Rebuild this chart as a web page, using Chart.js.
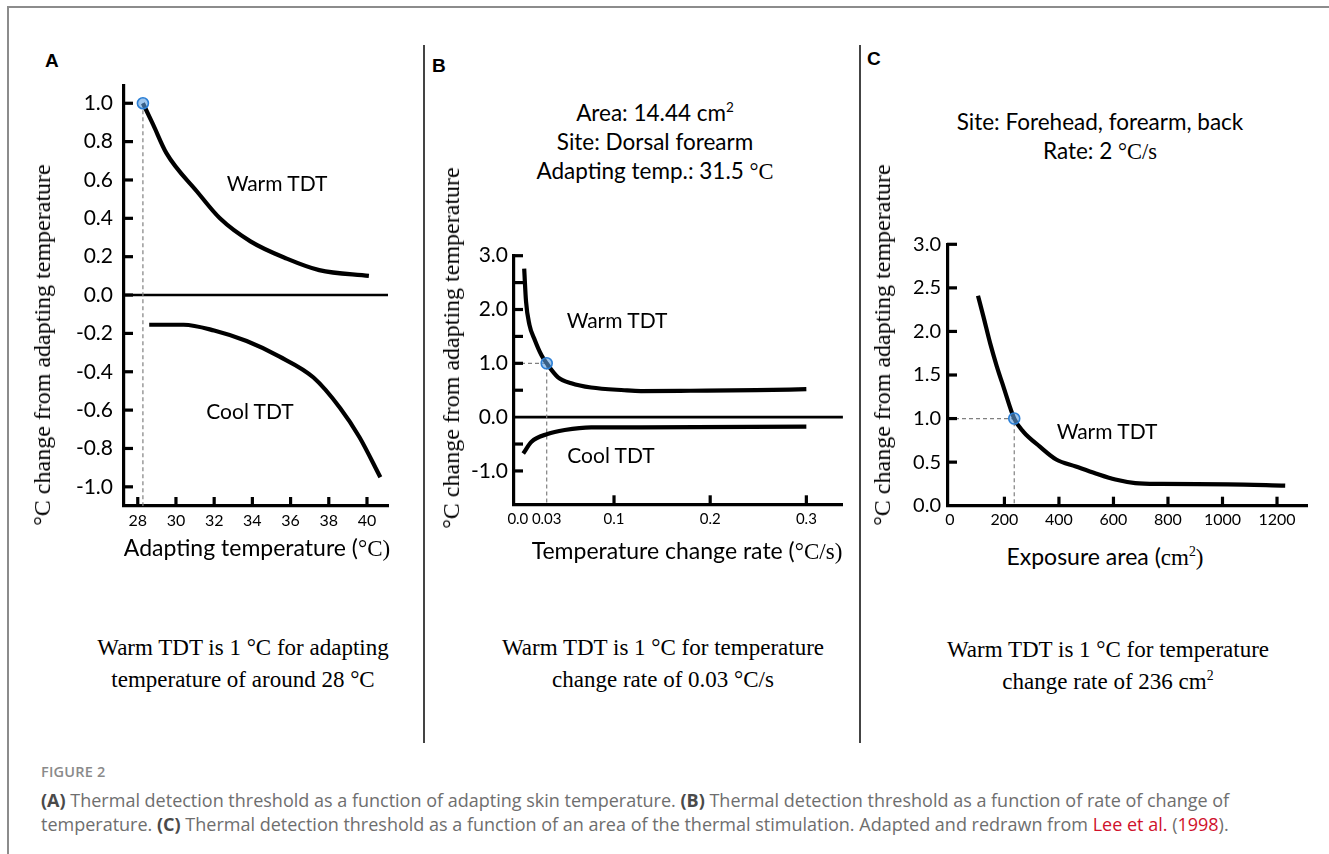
<!DOCTYPE html>
<html><head><meta charset="utf-8">
<script src="https://cdn.jsdelivr.net/npm/chart.js@4.4.1/dist/chart.umd.min.js"></script>
<style>
*{box-sizing:border-box}
html,body{margin:0;padding:0;background:#fff}
#root{position:relative;width:1329px;height:854px;overflow:hidden;font-family:Lato,"Open Sans",sans-serif;color:#000}
#frameTop{position:absolute;left:7px;top:6px;width:1322px;height:2px;background:#8c8c8c}
#frameLeft{position:absolute;left:7px;top:6px;width:2px;height:848px;background:#8c8c8c}
.vdiv{position:absolute;top:45px;width:1.5px;height:698px;background:#444}
canvas{position:absolute}
sup{line-height:0;font-size:0.6em;vertical-align:super}
.c{position:absolute;white-space:nowrap;transform:translate(-50%,-50%);line-height:1}
.lbl{font-size:21px}
.ann{font-size:22.5px}
.xt{font-size:23px}
.serif{font-family:"Liberation Serif","Times New Roman",serif}
.ytitle{position:absolute;white-space:nowrap;transform:translate(-50%,-50%) rotate(-90deg);font-family:"Liberation Serif",serif;font-size:24px;line-height:1}
.panel{position:absolute;font-family:"Liberation Sans",Arial,sans-serif;font-weight:bold;font-size:19px;line-height:1}
.note{position:absolute;transform:translateX(-50%);text-align:center;font-family:"Liberation Serif",serif;font-size:23px;line-height:32px;white-space:nowrap}
#figlab{position:absolute;left:41px;top:762px;font-family:"Open Sans",sans-serif;font-size:14.5px;font-weight:600;color:#8a8a8a;letter-spacing:0.2px}
#cap{position:absolute;left:41px;top:788px;font-family:"Open Sans",sans-serif;font-size:18px;line-height:24px;color:#6e6e6e;white-space:nowrap}
#cap b{color:#4a4a4a;font-weight:700}
#cap .red{color:#d0112b}
</style>
</head>
<body>
<div id="root">
  <div id="frameTop"></div><div id="frameLeft"></div>
  <div class="vdiv" style="left:423px"></div>
  <div class="vdiv" style="left:859px"></div>

  <div class="panel" style="left:45px;top:51px">A</div>
  <div class="panel" style="left:432px;top:56px">B</div>
  <div class="panel" style="left:867px;top:49px">C</div>

  <canvas id="chA" width="390" height="480" style="left:20px;top:70px;width:390px;height:480px"></canvas>
  <canvas id="chB" width="420" height="320" style="left:430px;top:230px;width:420px;height:320px"></canvas>
  <canvas id="chC" width="460" height="320" style="left:865px;top:220px;width:460px;height:320px"></canvas>

  <!-- axis titles -->
  <div class="ytitle" style="left:42px;top:345px">°C change from adapting temperature</div>
  <div class="ytitle" style="left:451px;top:348px">°C change from adapting temperature</div>
  <div class="ytitle" style="left:882px;top:345px">°C change from adapting temperature</div>
  <div class="c xt" style="left:257px;top:548px">Adapting temperature (<span class="serif">°C)</span></div>
  <div class="c xt" style="left:687px;top:551px">Temperature change rate (<span class="serif">°C/s)</span></div>
  <div class="c xt" style="left:1105px;top:557px">Exposure area (<span class="serif">cm<sup>2</sup>)</span></div>

  <!-- in-plot labels -->
  <div class="c lbl" style="left:277px;top:182px">Warm TDT</div>
  <div class="c lbl" style="left:250px;top:410px">Cool TDT</div>
  <div class="c lbl" style="left:617px;top:319px">Warm TDT</div>
  <div class="c lbl" style="left:611px;top:454px">Cool TDT</div>
  <div class="c lbl" style="left:1107px;top:430px">Warm TDT</div>

  <!-- condition annotations -->
  <div class="c ann" style="left:655px;top:113px">Area: 14.44 cm<sup>2</sup></div>
  <div class="c ann" style="left:655px;top:142px">Site: Dorsal forearm</div>
  <div class="c ann" style="left:655px;top:172px">Adapting temp.: 31.5 <span class="serif">°C</span></div>
  <div class="c ann" style="left:1100px;top:122px">Site: Forehead, forearm, back</div>
  <div class="c ann" style="left:1100px;top:152px">Rate: 2 <span class="serif">°C/s</span></div>

  <!-- notes -->
  <div class="note" style="left:243px;top:632px">Warm TDT is 1 °C for adapting<br>temperature of around 28 °C</div>
  <div class="note" style="left:663px;top:632px">Warm TDT is 1 °C for temperature<br>change rate of 0.03 °C/s</div>
  <div class="note" style="left:1108px;top:634px">Warm TDT is 1 °C for temperature<br>change rate of 236 cm<sup>2</sup></div>

  <div id="figlab">FIGURE 2</div>
  <div id="cap"><b>(A)</b> Thermal detection threshold as a function of adapting skin temperature. <b>(B)</b> Thermal detection threshold as a function of rate of change of<br>temperature. <b>(C)</b> Thermal detection threshold as a function of an area of the thermal stimulation. Adapted and redrawn from <span class="red">Lee et al.</span> (<span class="red">1998</span>).</div>
</div>

<script>
// ---------- Panel A: adapting temperature ----------
const aWarmT = [28.27, 28.8, 29.5, 31.1, 32.3, 33.9, 35.8, 37.5, 40.1];
const aWarmV = [1.0, 0.89, 0.74, 0.54, 0.40, 0.28, 0.19, 0.13, 0.10];
const aCoolT = [28.6, 30.4, 32.0, 33.7, 35.4, 37.2, 38.6, 39.6, 40.7];
const aCoolV = [-0.155, -0.155, -0.185, -0.24, -0.32, -0.43, -0.59, -0.74, -0.95];
const aXTicks = [28, 30, 32, 34, 36, 38, 40];
const aXLabels = ['28', '30', '32', '34', '36', '38', '40'];
const aYTicks = [-1.0, -0.8, -0.6, -0.4, -0.2, 0.0, 0.2, 0.4, 0.6, 0.8, 1.0];
const aYLabels = ['-1.0', '-0.8', '-0.6', '-0.4', '-0.2', '0.0', '0.2', '0.4', '0.6', '0.8', '1.0'];
const aMark = [28.27, 1.0];

// ---------- Panel B: temperature change rate ----------
const bWarmR = [0.0066, 0.0085, 0.012, 0.0177, 0.0246, 0.03, 0.0418, 0.0556, 0.0762, 0.1107, 0.128, 0.1796, 0.248, 0.300];
const bWarmV = [2.76, 2.15, 1.72, 1.43, 1.15, 1.0, 0.74, 0.63, 0.55, 0.50, 0.485, 0.49, 0.50, 0.52];
const bCoolR = [0.0056, 0.0142, 0.0308, 0.0487, 0.0762, 0.128, 0.300];
const bCoolV = [-0.675, -0.457, -0.314, -0.24, -0.19, -0.19, -0.178];
const bXTicks = [0.0, 0.03, 0.1, 0.2, 0.3];
const bXLabels = ['0.0', '0.03', '0.1', '0.2', '0.3'];
const bXMarks = [0.1, 0.2, 0.3];
const bYTicks = [-1.0, 0.0, 1.0, 2.0, 3.0];
const bYLabels = ['-1.0', '0.0', '1.0', '2.0', '3.0'];
const bYMarks = [-1.0, -0.5, 0.5, 1.0, 1.5, 2.0, 2.5, 3.0];
const bMark = [0.03, 1.0];

// ---------- Panel C: exposure area ----------
const cArea = [103, 123, 148, 172, 196, 236, 269, 329, 390, 462, 535, 607, 680, 777, 1019, 1230];
const cWarmV = [2.41, 2.17, 1.86, 1.60, 1.37, 1.0, 0.85, 0.68, 0.53, 0.45, 0.37, 0.30, 0.26, 0.25, 0.245, 0.23];
const cXTicks = [0, 200, 400, 600, 800, 1000, 1200];
const cXLabels = ['0', '200', '400', '600', '800', '1000', '1200'];
const cXMarks = [200, 400, 600, 800, 1000, 1200];
const cYTicks = [0.0, 0.5, 1.0, 1.5, 2.0, 2.5, 3.0];
const cYLabels = ['0.0', '0.5', '1.0', '1.5', '2.0', '2.5', '3.0'];
const cYMarks = [0.5, 1.0, 1.5, 2.0, 2.5, 3.0];
const cMark = [236, 1.0];

// axis ranges
const aRange = {x: [27.28, 41.1], y: [-1.1, 1.09]};
const bRange = {x: [-0.004, 0.338], y: [-1.62, 3.0]};
const cRange = {x: [-7, 1310], y: [0, 3.0]};

const pts = (xs, ys) => xs.map((x, i) => ({x: x, y: ys[i]}));

const inwardTicks = {
  id: 'inwardTicks',
  afterDatasetsDraw(chart, args, o) {
    const ctx = chart.ctx, xs = chart.scales.x, ys = chart.scales.y;
    ctx.save();
    ctx.strokeStyle = '#000';
    ctx.lineWidth = o.width;
    (o.x || []).forEach(v => {
      const px = xs.getPixelForValue(v);
      ctx.beginPath(); ctx.moveTo(px, ys.bottom + 1); ctx.lineTo(px, ys.bottom - o.len); ctx.stroke();
    });
    (o.y || []).forEach(v => {
      const py = ys.getPixelForValue(v);
      ctx.beginPath(); ctx.moveTo(xs.left - 1, py); ctx.lineTo(xs.left + o.len, py); ctx.stroke();
    });
    ctx.restore();
  }
};

function curve(data) {
  return {data: data, showLine: true, borderColor: '#000', borderWidth: 4.2, pointRadius: 0,
          tension: 0.4, cubicInterpolationMode: 'monotone', clip: false, order: 3};
}
function dashed(data) {
  return {data: data, showLine: true, borderColor: '#808080', borderWidth: 1.2, borderDash: [4, 3],
          pointRadius: 0, clip: false, order: 4};
}
function zeroLine(range) {
  return {data: [{x: range.x[0], y: 0}, {x: range.x[1], y: 0}], showLine: true, borderColor: '#000',
          borderWidth: 2.6, pointRadius: 0, clip: false, order: 5};
}
function marker(m) {
  return {data: [{x: m[0], y: m[1]}], showLine: false, pointRadius: 5.5, pointBorderWidth: 1.6,
          pointBackgroundColor: 'rgba(95,160,225,0.6)', pointBorderColor: '#2b7fd6', clip: false, order: 0};
}

function makeChart(id, c) {
  return new Chart(document.getElementById(id), {
    type: 'scatter',
    data: {datasets: c.datasets},
    plugins: [inwardTicks],
    options: {
      responsive: false, animation: false, events: [],
      layout: {padding: c.pad},
      plugins: {legend: {display: false}, tooltip: {enabled: false},
                inwardTicks: {x: c.xMarks, y: c.yMarks, len: 9, width: 3.2}},
      scales: {
        x: {
          type: 'linear', min: c.range.x[0], max: c.range.x[1],
          afterBuildTicks: s => { s.ticks = c.xTicks.map(v => ({value: v})); },
          afterFit: s => { s.height = c.xH; s.paddingLeft = 0; s.paddingRight = 0; s.paddingTop = 0; s.paddingBottom = 0; },
          ticks: {autoSkip: false, maxRotation: 0, minRotation: 0, padding: c.xPad, color: '#000',
                  font: {family: 'Lato', size: c.xFs}, callback: (v, i) => c.xLabels[i]},
          grid: {display: false, drawTicks: false},
          border: {display: true, color: '#000', width: 3.2}
        },
        y: {
          type: 'linear', min: c.range.y[0], max: c.range.y[1],
          afterBuildTicks: s => { s.ticks = c.yTicks.map(v => ({value: v})); },
          afterFit: s => { s.width = c.yW; s.paddingLeft = 0; s.paddingRight = 0; s.paddingTop = 0; s.paddingBottom = 0; },
          ticks: {autoSkip: false, padding: c.yPad, color: '#000',
                  font: {family: 'Lato', size: c.yFs}, callback: (v, i) => c.yLabels[i]},
          grid: {display: false, drawTicks: false},
          border: {display: true, color: '#000', width: 3.2}
        }
      }
    }
  });
}

makeChart('chA', {
  range: aRange, pad: {left: 0, top: 16, right: 22, bottom: 0}, xH: 44, yW: 104,
  xTicks: aXTicks, xLabels: aXLabels, yTicks: aYTicks, yLabels: aYLabels,
  xMarks: aXTicks, yMarks: aYTicks, xFs: 16, yFs: 21, xPad: 5, yPad: 11,
  datasets: [
    marker(aMark),
    curve(pts(aWarmT, aWarmV)),
    curve(pts(aCoolT, aCoolV)),
    zeroLine(aRange),
    dashed([{x: aMark[0], y: aMark[1]}, {x: aMark[0], y: aRange.y[0]}])
  ]
});

makeChart('chB', {
  range: bRange, pad: {left: 0, top: 25.7, right: 5, bottom: 0}, xH: 45.7, yW: 84,
  xTicks: bXTicks, xLabels: bXLabels, yTicks: bYTicks, yLabels: bYLabels,
  xMarks: bXMarks, yMarks: bYMarks, xFs: 15, yFs: 21, xPad: 6, yPad: 6,
  datasets: [
    marker(bMark),
    curve(pts(bWarmR, bWarmV)),
    curve(pts(bCoolR, bCoolV)),
    zeroLine(bRange),
    dashed([{x: bRange.x[0], y: bMark[1]}, {x: bMark[0], y: bMark[1]}, {x: bMark[0], y: bRange.y[0]}])
  ]
});

makeChart('chC', {
  range: cRange, pad: {left: 0, top: 24.3, right: 18, bottom: 0}, xH: 34.3, yW: 83,
  xTicks: cXTicks, xLabels: cXLabels, yTicks: cYTicks, yLabels: cYLabels,
  xMarks: cXMarks, yMarks: cYMarks, xFs: 16, yFs: 20, xPad: 5, yPad: 7,
  datasets: [
    marker(cMark),
    curve(pts(cArea, cWarmV)),
    dashed([{x: cRange.x[0], y: cMark[1]}, {x: cMark[0], y: cMark[1]}, {x: cMark[0], y: cRange.y[0]}])
  ]
});
</script>
</body></html>
